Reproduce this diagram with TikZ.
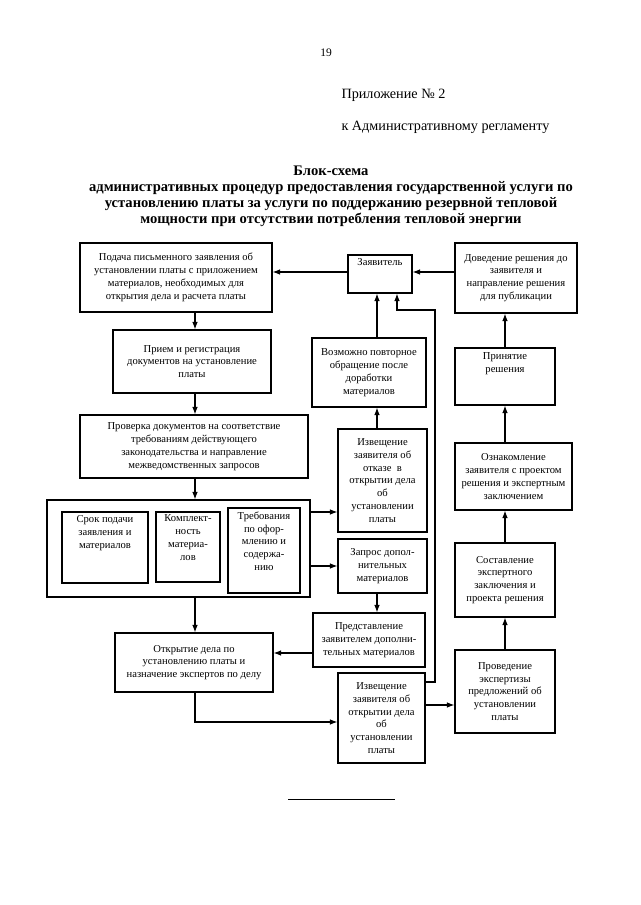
\documentclass[tikz,border=0pt]{standalone}
\usepackage{fontspec}
\setmainfont{Liberation Serif}
\usetikzlibrary{arrows.meta,calc}
\begin{document}
\begin{tikzpicture}[x=1pt,y=-1pt,
  box/.style={draw, line width=1.05pt, align=center, inner sep=1pt, font=\fontsize{10.6}{12.8}\selectfont},
  txt/.style={align=center, inner sep=1pt, font=\fontsize{10.6}{12.8}\selectfont},
  arr/.style={line width=1.1pt, -{Latex[length=7.5pt,width=5.5pt]}},
  ln/.style={line width=1pt}]
\useasboundingbox (0,0) rectangle (640,905);
% header
\node[font=\fontsize{11.5}{13}\selectfont] (pg) at (326,53) {19};
\node[anchor=west, font=\fontsize{14.2}{16}\selectfont] (app) at (338,95) {Приложение № 2};
\node[anchor=west, font=\fontsize{14.2}{16}\selectfont] (reg) at (338,127) {к Административному регламенту};
\node[align=center, font=\bfseries\fontsize{14.6}{16}\selectfont] (title) at (331,196) {Блок-схема\\административных процедур предоставления государственной услуги по\\установлению платы за услуги по поддержанию резервной тепловой\\мощности при отсутствии потребления тепловой энергии};
% left column
\node[box, minimum width=192, minimum height=69] (podacha) at (176,277.5) {Подача письменного заявления об\\установлении платы с приложением\\материалов, необходимых для\\открытия дела и расчета платы};
\node[box, minimum width=158, minimum height=63] (priem) at (192,361.5) {Прием и регистрация\\документов на установление\\платы};
\node[box, minimum width=228, minimum height=63] (proverka) at (194,446.5) {Проверка документов на соответствие\\требованиям действующего\\законодательства и направление\\межведомственных запросов};
\node[box, minimum width=263, minimum height=97] (big) at (178.5,548.5) {};
\node[box, minimum width=86, minimum height=71] (srok) at (105,547.5) {};
\node[txt, anchor=north] (srokT) at ([yshift=-3pt]srok.north) {Срок подачи\\заявления и\\материалов};
\node[box, minimum width=64, minimum height=70] (kompl) at (188,547) {};
\node[txt, anchor=north] (komplT) at ([yshift=-2pt]kompl.north) {Комплект-\\ность\\материа-\\лов};
\node[box, minimum width=72, minimum height=85] (treb) at (264,550.5) {};
\node[txt, anchor=north] (trebT) at ([yshift=-3pt]treb.north) {Требования\\по офор-\\млению и\\содержа-\\нию};
\node[box, minimum width=158, minimum height=59] (otkr) at (194,662.5) {Открытие дела по\\установлению платы и\\назначение экспертов по делу};
% middle column
\node[box, minimum width=64, minimum height=38] (zayav) at (380,274) {};
\node[txt, anchor=north] (zayavT) at ([yshift=-3pt]zayav.north) {Заявитель};
\node[box, minimum width=114, minimum height=69] (vozm) at (369,372.5) {Возможно повторное\\обращение после\\доработки\\материалов};
\node[box, minimum width=89, minimum height=103] (otkaz) at (382.5,480.5) {Извещение\\заявителя об\\отказе~~в\\открытии дела\\об\\установлении\\платы};
\node[box, minimum width=89, minimum height=54] (zapros) at (382.5,566) {Запрос допол-\\нительных\\материалов};
\node[box, minimum width=112, minimum height=54] (predst) at (369,640) {Представление\\заявителем дополни-\\тельных материалов};
\node[box, minimum width=87, minimum height=90] (izv) at (381.5,718) {Извещение\\заявителя об\\открытии дела\\об\\установлении\\платы};
% right column
\node[box, minimum width=122, minimum height=70] (doved) at (516,278) {Доведение решения до\\заявителя и\\направление решения\\для публикации};
\node[box, minimum width=100, minimum height=57] (prin) at (505,376.5) {};
\node[txt, anchor=north] (prinT) at ([yshift=-4pt]prin.north) {Принятие\\решения};
\node[box, minimum width=117, minimum height=67] (oznak) at (513.5,476.5) {Ознакомление\\заявителя с проектом\\решения и экспертным\\заключением};
\node[box, minimum width=100, minimum height=74] (sostav) at (505,580) {Составление\\экспертного\\заключения и\\проекта решения};
\node[box, minimum width=100, minimum height=83] (proved) at (505,691.5) {Проведение\\экспертизы\\предложений об\\установлении\\платы};
% helper coordinates
\coordinate (xL) at (195,0);
\coordinate (xM) at (377,0);
\coordinate (xR) at (435,0);
\coordinate (xZ) at (397,0);
\coordinate (yTop) at (0,272);
\coordinate (yLoop) at (0,310);
\coordinate (yA) at (0,512);
\coordinate (yP) at (0,653);
\coordinate (yE) at (0,705);
\coordinate (yI) at (0,682);
\coordinate (yO) at (0,722);
% connectors left
\draw[arr] (podacha.south -| xL) -- (priem.north -| xL);
\draw[arr] (priem.south -| xL) -- (proverka.north -| xL);
\draw[arr] (proverka.south -| xL) -- (big.north -| xL);
\draw[arr] (big.south -| xL) -- (otkr.north -| xL);
\draw[arr] (otkr.south -| xL) |- (izv.west |- yO);
% to/from middle
\draw[arr] (big.east |- yA) -- (otkaz.west |- yA);
\draw[arr] (big.east |- zapros.west) -- (zapros.west);
\draw[arr] (zapros.south -| xM) -- (predst.north -| xM);
\draw[arr] (predst.west |- yP) -- (otkr.east |- yP);
\draw[arr] (otkaz.north -| xM) -- (vozm.south -| xM);
\draw[arr] (vozm.north -| xM) -- (zayav.south -| xM);
\draw[arr] (zayav.west |- yTop) -- (podacha.east |- yTop);
\draw[arr] (doved.west |- yTop) -- (zayav.east |- yTop);
\draw[arr] (izv.east |- yI) -| (xR |- yLoop) -| (zayav.south -| xZ);
\draw[arr] (izv.east |- yE) -- (proved.west |- yE);
% right column
\draw[arr] (proved.north) -- (proved.north |- sostav.south);
\draw[arr] (sostav.north) -- (sostav.north |- oznak.south);
\draw[arr] (prin.south |- oznak.north) -- (prin.south);
\draw[arr] (prin.north) -- (prin.north |- doved.south);
% separator
\draw[line width=0.8pt] (288,799) -- (395,799);
\end{tikzpicture}
\end{document}
